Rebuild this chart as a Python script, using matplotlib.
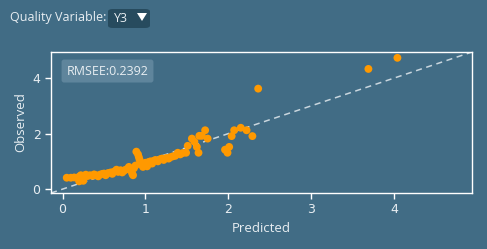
import numpy as np
import matplotlib.pyplot as plt
from matplotlib.patches import FancyBboxPatch, Polygon

# Datos
predicted = [0.05, 0.10, 0.14, 0.18, 0.20, 0.20, 0.22, 0.24, 0.25, 0.26, 0.28, 0.30,
             0.33, 0.36, 0.38, 0.40, 0.43, 0.45, 0.48, 0.50, 0.52, 0.55, 0.58, 0.60,
             0.62, 0.65, 0.67, 0.70, 0.72, 0.74, 0.76, 0.78, 0.80, 0.82, 0.84, 0.85,
             0.86, 0.88, 0.89, 0.91, 0.92, 0.93, 0.94, 0.95, 0.97, 0.98, 1.00, 1.02,
             1.04, 1.06, 1.08, 1.10, 1.12, 1.15, 1.18, 1.20, 1.22, 1.25, 1.28, 1.30,
             1.33, 1.36, 1.39, 1.42, 1.45, 1.49, 1.51, 1.56, 1.59, 1.62, 1.64, 1.65,
             1.68, 1.72, 1.75, 1.96, 1.99, 2.01, 2.04, 2.07, 2.15, 2.22, 2.29, 2.36,
             3.69, 4.04]
observed = [0.41, 0.41, 0.42, 0.40, 0.45, 0.28, 0.50, 0.43, 0.30, 0.48, 0.52, 0.47,
            0.50, 0.48, 0.53, 0.50, 0.46, 0.52, 0.55, 0.56, 0.50, 0.58, 0.60, 0.55,
            0.63, 0.70, 0.62, 0.68, 0.60, 0.66, 0.70, 0.72, 0.80, 0.68, 0.56, 0.50,
            0.75, 0.85, 1.35, 1.25, 1.15, 1.05, 0.95, 0.88, 0.80, 0.90, 0.95, 0.82,
            0.98, 1.00, 0.92, 1.02, 1.05, 1.00, 1.08, 1.10, 1.05, 1.12, 1.10, 1.15,
            1.18, 1.20, 1.31, 1.25, 1.30, 1.31, 1.56, 1.82, 1.71, 1.52, 1.31, 1.92,
            1.92, 2.12, 1.82, 1.42, 1.31, 1.52, 1.91, 2.12, 2.21, 2.12, 1.91, 3.62,
            4.33, 4.73]
rmsee = 0.2392
lims = (-0.14, 4.94)

bg = '#416c85'
txt = '#e8eef2'

fig = plt.figure(figsize=(4.87, 2.49), dpi=100, facecolor=bg)
ax = fig.add_axes([0.1047, 0.2249, 0.8645, 0.5663])
ax.set_facecolor(bg)

ax.plot(lims, lims, linestyle=(0, (4, 3)), color='#c9d6de', lw=1.1, zorder=2)
ax.scatter(predicted, observed, s=32, color='#ff9900', edgecolors='none', zorder=3)

ax.set_xlim(lims)
ax.set_ylim(lims)
ax.set_xticks([0, 1, 2, 3, 4])
ax.set_yticks([0, 2, 4])
for s in ax.spines.values():
    s.set_color('white')
    s.set_linewidth(1)
ax.tick_params(colors='white', labelcolor=txt, labelsize=9, length=4, width=1)
ax.set_xlabel('Predicted', color=txt, fontsize=9.5, family='Open Sans', labelpad=4)
ax.set_ylabel('Observed', color=txt, fontsize=9.5, family='Open Sans', labelpad=4)

# Caja RMSEE
ax.text(0.037, 0.865, f'RMSEE:{rmsee}', transform=ax.transAxes, fontsize=9,
        family='Open Sans', color=txt, va='center', ha='left',
        bbox=dict(boxstyle='round,pad=0.4,rounding_size=0.2', fc='#5f859c',
                  ec='none'))

# Selector "Quality Variable"
fig.text(10/487, 1 - 17/249, 'Quality Variable:', fontsize=9, family='Open Sans',
         color=txt, va='center', ha='left')
box = FancyBboxPatch((108/487, 1 - 28/249), 42/487, 19/249,
                     boxstyle='round,pad=0,rounding_size=0.01',
                     transform=fig.transFigure, fc='#274b5e', ec='none')
fig.patches.append(box)
fig.text(114/487, 1 - 18/249, 'Y3', fontsize=9, family='Open Sans',
         color=txt, va='center', ha='left')
tri = Polygon([[137/487, 1 - 13/249], [147/487, 1 - 13/249], [142/487, 1 - 21/249]],
              closed=True, transform=fig.transFigure, fc='white', ec='none')
fig.patches.append(tri)

plt.savefig('out.png', dpi=100, facecolor=bg)
